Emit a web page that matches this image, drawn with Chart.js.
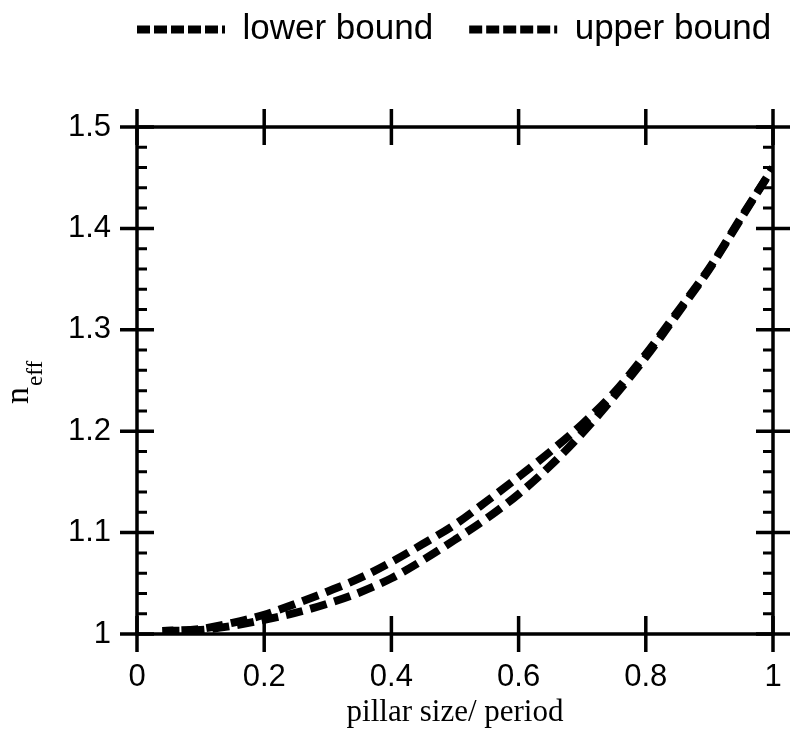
<!DOCTYPE html>
<html>
<head>
<meta charset="utf-8">
<script src="https://cdn.jsdelivr.net/npm/chart.js@4/dist/chart.umd.min.js"></script>
<style>
  body { margin: 0; background: #fff; }
</style>
</head>
<body>
<canvas id="neffChart" width="791" height="738"></canvas>
<script>
// pillar size / period
var fillFactor = [0.04, 0.1, 0.15, 0.2, 0.25, 0.3, 0.35, 0.4, 0.45, 0.5,
                  0.55, 0.6, 0.65, 0.7, 0.75, 0.8, 0.85, 0.9, 0.95, 1.0];
var lowerBound = [1.003, 1.004, 1.008, 1.014, 1.021, 1.030, 1.041, 1.055, 1.073, 1.093,
                  1.114, 1.138, 1.166, 1.198, 1.234, 1.273, 1.316, 1.360, 1.410, 1.460];
var upperBound = [1.003, 1.005, 1.011, 1.019, 1.030, 1.042, 1.055, 1.071, 1.089, 1.108,
                  1.131, 1.155, 1.180, 1.207, 1.238, 1.276, 1.318, 1.361, 1.411, 1.460];
var xTickLabels = ['0', '0.2', '0.4', '0.6', '0.8', '1'];
var yTickLabels = ['1', '1.1', '1.2', '1.3', '1.4', '1.5'];

var sans = "'Liberation Sans', Arial, Helvetica, sans-serif";
var serif = "'Liberation Serif', 'Times New Roman', serif";

function toPoints(xs, ys) {
    var pts = [];
    for (var i = 0; i < xs.length; i++) {
        pts.push({ x: xs[i], y: ys[i] });
    }
    return pts;
}

// frame, crossing major ticks, inward minor ticks and the n_eff label
var framePlugin = {
    id: 'frame',
    beforeLayout: function (chart) {
        var lg = chart.legend;
        if (lg && !lg._patched) {
            var fit = lg.fit;
            lg.fit = function () {
                fit.call(this);
                this.height = 127;
            };
            lg._patched = true;
        }
    },
    afterLayout: function (chart) {
        chart.legend.left = 101;
        chart.legend.right = 900;
        chart.legend.top = -24;
    },
    afterDatasetsDraw: function (chart) {
        var ctx = chart.ctx;
        var a = chart.chartArea;
        var xs = chart.scales.x, ys = chart.scales.y;
        ctx.save();
        ctx.strokeStyle = '#000';
        ctx.lineWidth = 3.5;
        ctx.lineCap = 'butt';
        ctx.beginPath();
        ctx.rect(a.left, a.top, a.right - a.left, a.bottom - a.top);
        ctx.stroke();

        ctx.beginPath();
        xs.ticks.forEach(function (t) {
            var px = xs.getPixelForValue(t.value);
            ctx.moveTo(px, a.top - 18); ctx.lineTo(px, a.top + 18);
            ctx.moveTo(px, a.bottom - 18); ctx.lineTo(px, a.bottom + 18);
        });
        ys.ticks.forEach(function (t) {
            var py = ys.getPixelForValue(t.value);
            ctx.moveTo(a.left - 17, py); ctx.lineTo(a.left + 17, py);
            ctx.moveTo(a.right - 17, py); ctx.lineTo(a.right + 17, py);
        });
        ctx.stroke();

        ctx.lineWidth = 3;
        ctx.beginPath();
        for (var k = 0; k < 25; k++) {
            if (k % 5 === 0) continue;
            var py = ys.getPixelForValue(1 + k * 0.02);
            ctx.moveTo(a.left, py); ctx.lineTo(a.left + 10, py);
            ctx.moveTo(a.right - 10, py); ctx.lineTo(a.right, py);
        }
        ctx.stroke();

        // y title: n with subscript eff
        ctx.fillStyle = '#000';
        ctx.translate(28, 404);
        ctx.rotate(-Math.PI / 2);
        ctx.textBaseline = 'alphabetic';
        ctx.textAlign = 'left';
        ctx.font = '34px ' + serif;
        ctx.fillText('n', 0, 0);
        var w = ctx.measureText('n').width;
        ctx.font = '23px ' + serif;
        ctx.fillText('eff', w + 1, 14);
        ctx.restore();
    }
};

var ctx = document.getElementById('neffChart');

var neffChart = new Chart(ctx, {
    type: 'line',
    data: {
        datasets: [
            {
                label: 'lower bound',
                data: toPoints(fillFactor, lowerBound),
                borderColor: '#000',
                backgroundColor: '#000',
                borderWidth: 8,
                borderDash: [17, 8],
                pointRadius: 0,
                fill: false,
                cubicInterpolationMode: 'monotone'
            },
            {
                label: 'upper bound',
                data: toPoints(fillFactor, upperBound),
                borderColor: '#000',
                backgroundColor: '#000',
                borderWidth: 8,
                borderDash: [17, 8],
                borderDashOffset: 6,
                pointRadius: 0,
                fill: false,
                cubicInterpolationMode: 'monotone'
            }
        ]
    },
    options: {
        responsive: false,
        animation: false,
        layout: { padding: { left: 0, right: 18, top: 0, bottom: 0 } },
        plugins: {
            legend: {
                position: 'top',
                align: 'start',
                labels: {
                    color: '#000',
                    font: { family: sans, size: 35 },
                    usePointStyle: true,
                    pointStyle: 'line',
                    pointStyleWidth: 88,
                    padding: 36,
                    generateLabels: function (chart) {
                        var items = Chart.defaults.plugins.legend.labels.generateLabels(chart);
                        items.forEach(function (it) {
                            it.lineDash = [13, 4];
                            it.lineDashOffset = 0;
                            it.lineWidth = 8;
                        });
                        return items;
                    }
                }
            },
            tooltip: { enabled: false }
        },
        scales: {
            x: {
                type: 'linear',
                position: 'bottom',
                min: 0,
                max: 1,
                afterFit: function (s) {
                    s.height = 104;
                    s.paddingLeft = 0;
                    s.paddingRight = 0;
                },
                grid: { display: false, drawTicks: false },
                border: { display: false },
                ticks: {
                    stepSize: 0.2,
                    padding: 25,
                    color: '#000',
                    font: { family: sans, size: 31 },
                    maxRotation: 0,
                    autoSkip: false,
                    callback: function (v, i) { return xTickLabels[i]; }
                },
                title: {
                    display: true,
                    text: 'pillar size/ period',
                    color: '#000',
                    font: { family: serif, size: 31 },
                    padding: { top: 0, bottom: 7 }
                }
            },
            y: {
                type: 'linear',
                position: 'left',
                min: 1,
                max: 1.5,
                afterFit: function (s) { s.width = 137; },
                grid: { display: false, drawTicks: false },
                border: { display: false },
                ticks: {
                    stepSize: 0.1,
                    padding: 26,
                    color: '#000',
                    font: { family: sans, size: 31 },
                    autoSkip: false,
                    callback: function (v, i) { return yTickLabels[i]; }
                }
            }
        }
    },
    plugins: [framePlugin]
});
</script>
</body>
</html>
